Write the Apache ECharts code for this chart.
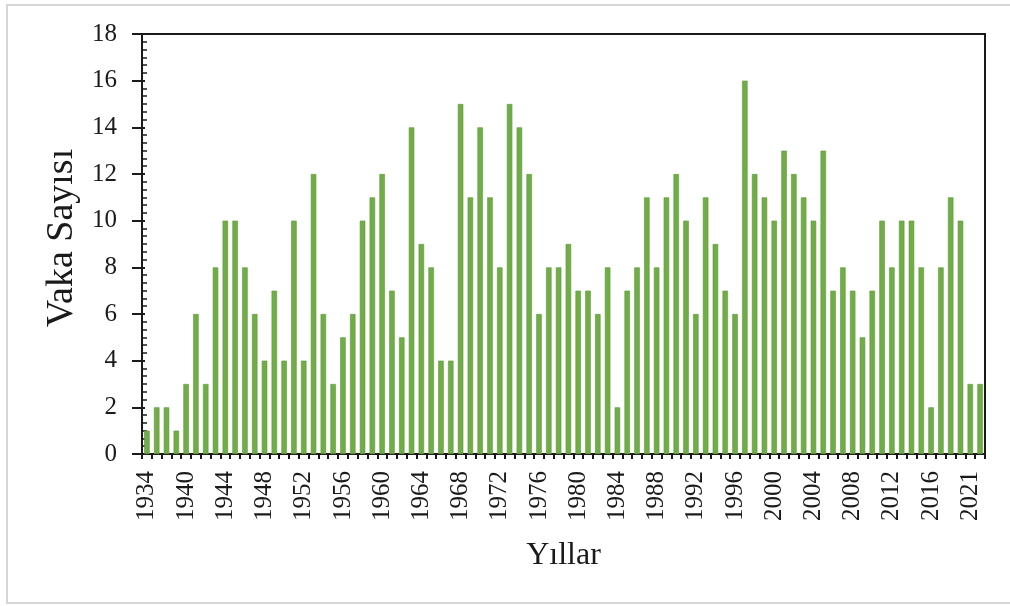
<!DOCTYPE html>
<html>
<head>
<meta charset="utf-8">
<script src="https://cdn.jsdelivr.net/npm/echarts@6/dist/echarts.min.js"></script>
<style>
  html, body { margin: 0; padding: 0; background: #ffffff; }
  #chart { width: 1010px; height: 606px; }
</style>
</head>
<body>
<div id="chart"></div>
<script>
// Years with recorded cases
const years = [
  '1934', '1935', '1936', '1938',
  '1940', '1941', '1942', '1943', '1944', '1945', '1946', '1947', '1948', '1949',
  '1950', '1951', '1952', '1953', '1954', '1955', '1956', '1957', '1958', '1959',
  '1960', '1961', '1962', '1963', '1964', '1965', '1966', '1967', '1968', '1969',
  '1970', '1971', '1972', '1973', '1974', '1975', '1976', '1977', '1978', '1979',
  '1980', '1981', '1982', '1983', '1984', '1985', '1986', '1987', '1988', '1989',
  '1990', '1991', '1992', '1993', '1994', '1995', '1996', '1997', '1998', '1999',
  '2000', '2001', '2002', '2003', '2004', '2005', '2006', '2007', '2008', '2009',
  '2010', '2011', '2012', '2013', '2014', '2015', '2016', '2017', '2018', '2019',
  '2021', '2022'
];

// Number of cases per year
const caseCounts = [
  1, 2, 2, 1,
  3, 6, 3, 8, 10, 10, 8, 6, 4, 7,
  4, 10, 4, 12, 6, 3, 5, 6, 10, 11,
  12, 7, 5, 14, 9, 8, 4, 4, 15, 11,
  14, 11, 8, 15, 14, 12, 6, 8, 8, 9,
  7, 7, 6, 8, 2, 7, 8, 11, 8, 11,
  12, 10, 6, 11, 9, 7, 6, 16, 12, 11,
  10, 13, 12, 11, 10, 13, 7, 8, 7, 5,
  7, 10, 8, 10, 10, 8, 2, 8, 11, 10,
  3, 3
];

const yTitle = 'Vaka Sayısı';
const xTitle = 'Yıllar';

const serif = '"Liberation Serif", "DejaVu Serif", serif';
const ink = '#1a1a1a';

const chart = echarts.init(document.getElementById('chart'), null, { renderer: 'canvas' });

chart.setOption({
  backgroundColor: '#ffffff',
  animation: false,
  graphic: [{
    type: 'rect',
    shape: { x: 7, y: 5, width: 1020, height: 598 },
    style: { fill: 'none', stroke: '#d6d6d6', lineWidth: 2 },
    z: -1
  }],
  grid: {
    left: 142, right: 25, top: 34, bottom: 152,
    show: true, borderColor: ink, borderWidth: 2, backgroundColor: 'transparent'
  },
  xAxis: {
    type: 'category',
    data: years,
    boundaryGap: true,
    name: xTitle,
    nameLocation: 'middle',
    nameGap: 86,
    nameTextStyle: { fontFamily: serif, fontSize: 32, color: ink },
    axisLine: { show: true, lineStyle: { color: ink, width: 2 } },
    axisTick: { show: true, interval: 0, length: 5, inside: false, lineStyle: { color: ink, width: 2 } },
    axisLabel: {
      interval: 3, rotate: 90, margin: 17,
      fontFamily: serif, fontSize: 25, color: ink
    },
    splitLine: { show: false }
  },
  yAxis: [{
    type: 'value',
    min: 0, max: 18, interval: 2,
    name: yTitle,
    nameLocation: 'middle',
    nameGap: 58,
    nameTextStyle: { fontFamily: serif, fontSize: 38, color: ink, padding: [0, 0, 0, 12] },
    axisLine: { show: true, lineStyle: { color: ink, width: 2 } },
    axisTick: { show: true, inside: false, length: 10, lineStyle: { color: ink, width: 2 } },
    axisLabel: { margin: 25, fontFamily: serif, fontSize: 25, color: ink },
    splitLine: { show: false }
  }, {
    // inner tick marks of the vertical axis
    type: 'value',
    position: 'left',
    min: 0, max: 18, interval: 2,
    axisLine: { show: true, lineStyle: { color: ink, width: 2 } },
    axisTick: { show: true, inside: true, length: 3, lineStyle: { color: ink, width: 2 } },
    minorTick: { show: true, splitNumber: 6, length: 5, lineStyle: { color: ink, width: 1.5 } },
    axisLabel: { show: false },
    splitLine: { show: false }
  }],
  series: [{
    type: 'bar',
    data: caseCounts,
    yAxisIndex: 0,
    barWidth: '56%',
    itemStyle: { color: '#70AD47', borderColor: '#5f9a3c', borderWidth: 0.6 }
  }]
});
</script>
</body>
</html>
